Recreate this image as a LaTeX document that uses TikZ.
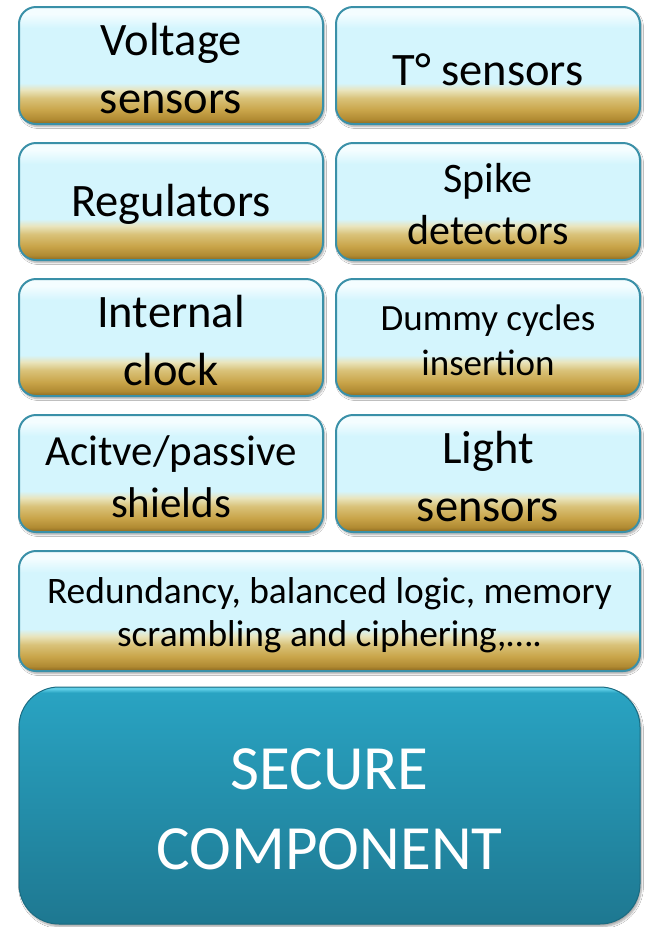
\documentclass[tikz,border=0pt]{standalone}
\usepackage{fontspec}
\setmainfont{Carlito}
\usetikzlibrary{shadows.blur}
\definecolor{gdark}{HTML}{8A6820}
\definecolor{gdeep}{HTML}{B08A32}
\definecolor{gmid}{HTML}{C9A54A}
\definecolor{glight}{HTML}{D9C279}
\definecolor{gpale}{HTML}{E9E4BC}
\definecolor{cyanb}{HTML}{D4F5FD}
\definecolor{cyanw}{HTML}{F4FDFF}
\definecolor{tealedge}{HTML}{3A90A8}
\definecolor{tone}{HTML}{1E7891}
\definecolor{ttwo}{HTML}{29A3C2}
\definecolor{tthree}{HTML}{5ECDE6}
\definecolor{tdark}{HTML}{1B6C82}
\pgfdeclareverticalshading{glassbox}{100bp}{color(0bp)=(gdark); color(25bp)=(gdark); color(27bp)=(gdeep); color(31bp)=(gmid); color(36bp)=(glight); color(39.5bp)=(gpale); color(42.5bp)=(cyanb); color(66bp)=(cyanb); color(72bp)=(cyanw); color(75bp)=(cyanw); color(100bp)=(cyanw)}
\pgfdeclareverticalshading{tealbox}{100bp}{color(0bp)=(tone); color(25bp)=(tone); color(73.8bp)=(ttwo); color(74.6bp)=(tthree); color(75bp)=(tthree); color(100bp)=(tthree)}
\tikzset{
  glass/.style={draw=tealedge, line width=2pt, rounded corners=17pt, shading=glassbox,
    minimum width=304pt, minimum height=117pt, inner sep=0pt,
    blur shadow={shadow xshift=1.5pt, shadow yshift=-2.5pt, shadow blur steps=6, shadow opacity=35}},
  wide/.style={glass, minimum width=621pt, minimum height=120pt},
  core/.style={draw=tdark, line width=1pt, rounded corners=40pt, shading=tealbox,
    minimum width=621pt, minimum height=237pt, inner sep=0pt,
    blur shadow={shadow xshift=1.5pt, shadow yshift=-2.5pt, shadow blur steps=6, shadow opacity=35}},
  lbl/.style={align=center, text=black, inner sep=0pt, yshift=-3pt},
  big/.style={font=\fontsize{46.5}{58}\selectfont},
}
\begin{document}
\begin{tikzpicture}[x=1pt,y=-1pt]
\useasboundingbox[fill=white] (0,0) rectangle (646,927);
\node[glass,label={[lbl,big,name=voltT]center:{Voltage\\sensors}}] (volt) at (171,65.5) {};
\node[glass,label={[lbl,big,name=tempT,yshift=-1pt]center:{T° sensors}}] (temp) at (488,65.5) {};
\node[glass,label={[lbl,big,name=regT]center:{Regulators}}] (reg) at (171,201.5) {};
\node[glass,label={[lbl,font=\fontsize{42}{52}\selectfont,name=spikeT]center:{Spike\\detectors}}] (spike) at (488,201.5) {};
\node[glass,label={[lbl,big,name=clockT]center:{Internal\\clock}}] (clock) at (171,337.5) {};
\node[glass,label={[lbl,font=\fontsize{37}{45}\selectfont,name=dummyT]center:{Dummy cycles\\insertion}}] (dummy) at (488,337.5) {};
\node[glass,label={[lbl,font=\fontsize{43}{52}\selectfont,name=shieldT]center:{Acitve/passive\\shields}}] (shield) at (171,473.5) {};
\node[glass,label={[lbl,big,name=lightT]center:{Light\\sensors}}] (light) at (488,473.5) {};
\node[wide,label={[lbl,font=\fontsize{37.4}{43}\selectfont,name=redT,yshift=-1pt]center:{Redundancy, balanced logic, memory\\scrambling and ciphering,….}}] (red) at (329.5,611) {};
\node[core,label={[lbl,text=white,font=\fontsize{63}{80}\selectfont,name=secT,yshift=-1pt]center:{SECURE\\COMPONENT}}] (secure) at (329.5,805.5) {};
\end{tikzpicture}
\end{document}
